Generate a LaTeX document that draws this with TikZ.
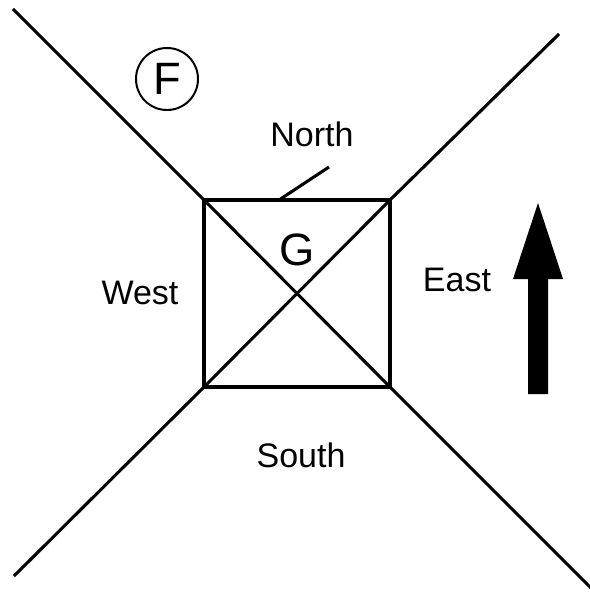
\documentclass[tikz,border=0pt]{standalone}
\usepackage{fontspec}
\setmainfont{Liberation Sans}
\begin{document}
\begin{tikzpicture}[x=0.75pt, y=-0.75pt, line width=2.3pt,
    lbl/.style={font=\fontsize{25.5}{29}\selectfont, inner sep=0pt},
    big/.style={font=\fontsize{34}{40}\selectfont, inner sep=0pt}]
\useasboundingbox (0,0) rectangle (589,595);

% --- Quadrato centrale ---
\coordinate (nw) at (204,200);
\coordinate (ne) at (390,200);
\coordinate (se) at (390,387);
\coordinate (sw) at (204,387);
\draw (nw) rectangle (se);
\draw (nw) -- (se);
\draw (ne) -- (sw);

% --- Diagonali esterne ---
\coordinate (tl) at (13,9);
\coordinate (tr) at (559,34);
\coordinate (br) at (592,589);
\coordinate (bl) at (14,576);
\foreach \a/\b in {nw/tl, ne/tr, se/br, sw/bl}{
    \draw (\a) -- (\b);
}

% --- Etichette ---
\node[lbl] (north) at (312,134) {North};
\node[lbl] (south) at (301,455) {South};
\node[lbl] (west) at (140,293) {West};
\node[lbl] (east) at (457,280) {East};
\node[big] (g) at (297,250) {G};
\node[big, draw, circle, line width=1.5pt, minimum size=46.5pt] (f) at (167,79) {F};

% --- Segno verso North ---
\coordinate (ntip) at (329,167);
\coordinate (nfoot) at (279,200);
\draw (nfoot) -- (ntip);

% --- Freccia ---
\fill (528,394) -- (528,279) -- (513,279) -- (538,203) -- (563,279)
      -- (548,279) -- (548,394) -- cycle;

\end{tikzpicture}
\end{document}
